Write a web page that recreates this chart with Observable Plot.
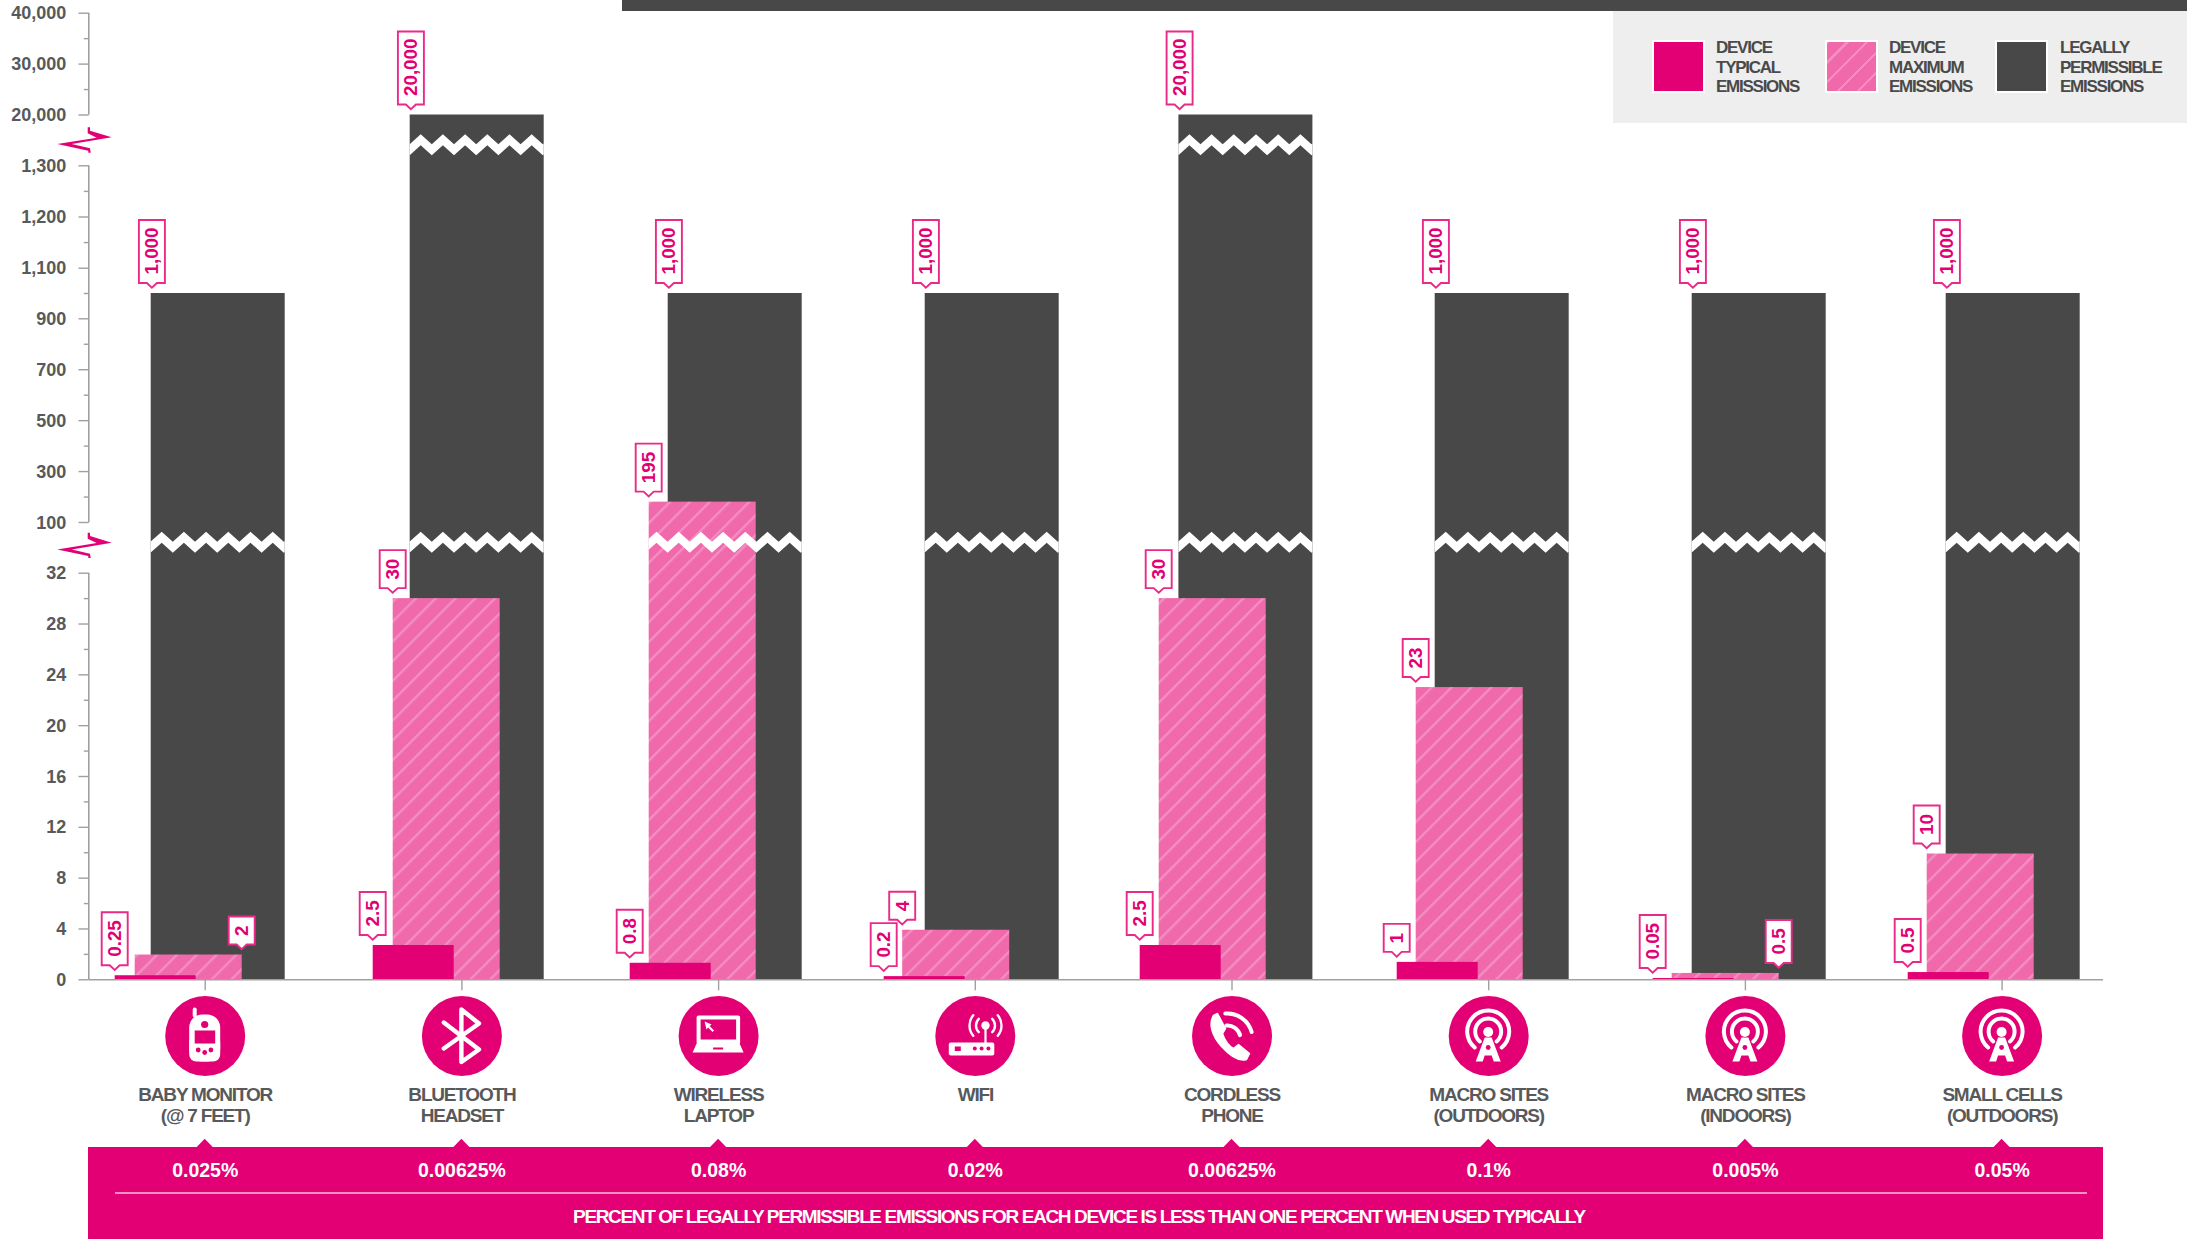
<!DOCTYPE html>
<html><head><meta charset="utf-8">
<script src="https://cdn.jsdelivr.net/npm/d3@7"></script>
<script src="https://cdn.jsdelivr.net/npm/@observablehq/plot@0.6"></script>
<style>
html,body{margin:0;padding:0;background:#fff;overflow:hidden}
#page{position:relative;width:2187px;height:1239px;overflow:hidden;font-family:"Liberation Sans",sans-serif}
#page svg{position:absolute;left:0;top:0;font-family:"Liberation Sans",sans-serif}
.strip{position:absolute;left:622px;top:0;right:0;height:11px;background:#484848}
.legend{position:absolute;left:1613px;top:11px;right:0;height:112px;background:#eee}
.sw{position:absolute;top:29px;width:49px;height:49px;border:2.5px solid #fff;box-sizing:content-box}
.lt{position:absolute;top:27px;font-size:17px;line-height:19.6px;font-weight:700;color:#4a4a4a;letter-spacing:-1.25px;white-space:pre}
</style></head><body>
<div id="page"></div>
<script>
const categories = ["BABY MONITOR\n(@ 7 FEET)","BLUETOOTH\nHEADSET","WIRELESS\nLAPTOP","WIFI","CORDLESS\nPHONE","MACRO SITES\n(OUTDOORS)","MACRO SITES\n(INDOORS)","SMALL CELLS\n(OUTDOORS)"];
const typicalHeights = [0.32,2.7,1.3,0.25,2.7,1.37,0.1,0.57];
const typicalLabels = ["0.25","2.5","0.8","0.2","2.5","1","0.05","0.5"];
const maximumHeights = [1.95,30,180,3.9,30,23,0.5,9.9];
const maximumLabels = ["2","30","195","4","30","23","0.5","10"];
const maximumFlagSides = ["right","left","left","left","left","left","right","left"];
const permissibleHeights = [1000,20000,1000,1000,20000,1000,1000,1000];
const permissibleLabels = ["1,000","20,000","1,000","1,000","20,000","1,000","1,000","1,000"];
const percentLabels = ["0.025%","0.00625%","0.08%","0.02%","0.00625%","0.1%","0.005%","0.05%"];
const iconNames = ["monitor","bluetooth","laptop","router","phone","tower","tower","tower"];
const majorTicks = [0,4,8,12,16,20,24,28,32,100,300,500,700,900,1100,1200,1300,20000,30000,40000];
const minorTicks = [2,6,10,14,18,22,26,30,200,400,600,800,1000,1150,1250,25000,35000];
const axisSegments = [[0,32],[100,1300],[20000,40000]];
const heading = "PERCENT OF LEGALLY PERMISSIBLE EMISSIONS FOR EACH DEVICE IS LESS THAN ONE PERCENT WHEN USED TYPICALLY";
const legendItems = [["DEVICE\nTYPICAL\nEMISSIONS",39,103],["DEVICE\nMAXIMUM\nEMISSIONS",212,276],["LEGALLY\nPERMISSIBLE\nEMISSIONS",382,447]];

const PINK = "#e20074", DARK = "#484848", GREY = "#58595b", AXIS = "#a0a0a0";
const xRange = [76.35,2129.95], band = (xRange[1]-xRange[0])/categories.length;
const BASE = 979.3;
// layout of the three overlapping bars around each category's centre
const off = {typical:[-91,-10], maximum:[-71.5,35.5], permissible:[-52.5,81.5]};
const nudge = {
  typical:[1,2.3,2.6,-0.1,-0.8,-0.5,-1.2,-2.9],
  maximum:[1.5,2.8,2.1,-1.1,-1.3,-1,-1.7,-3.4],
  permissible:[-1.5,0.8,2.1,2.4,-0.6,-1,-0.7,-3.4]
};
const insets = k => ({insetLeft: band/2+off[k][0], insetRight: band/2-off[k][1]});
const spacing = v => (i,s,vals,d,ctx,next)=>{const n=next(i,s,vals,d,ctx);n.style.letterSpacing=v;return n;};

const rows = categories.map((category,i)=>({category,typical:typicalHeights[i],maximum:maximumHeights[i],permissible:permissibleHeights[i],percent:percentLabels[i],icon:iconNames[i]}));
const flagRows = [
  ...categories.map((category,i)=>({category,height:typicalHeights[i],label:typicalLabels[i],offset:off.typical[0]+nudge.typical[i]})),
  ...categories.map((category,i)=>({category,height:maximumHeights[i],label:maximumLabels[i],offset:(maximumFlagSides[i]==="right"?off.maximum[1]:off.maximum[0])+nudge.maximum[i]})),
  ...categories.map((category,i)=>({category,height:permissibleHeights[i],label:permissibleLabels[i],offset:off.permissible[0]+nudge.permissible[i]+1.2}))
];

const centre = (s,c)=>s.x(c)+band/2;
const g = html => d3.create("svg:g").html(html).node();

function zigzagPoly(x0,x1,top,phase){
  const P=22.2,h=10,t=11,yAt=x=>{const u=(((x-phase)%P)+P)%P/(P/2);return top+h*(u<=1?u:2-u);};
  const xs=[x0];for(let x=phase-P*20;x<x1;x+=P/2){if(x>x0)xs.push(x);}xs.push(x1);
  const up=xs.map(x=>`${x},${yAt(x)}`),dn=xs.slice().reverse().map(x=>`${x},${yAt(x)+t}`);
  return `<polygon points="${up.concat(dn).join(" ")}" fill="#fff"/>`;
}
function arc(cx,cy,r,a0,a1,w){
  const p=a=>[cx+r*Math.sin(a*Math.PI/180),cy-r*Math.cos(a*Math.PI/180)];
  const [x0,y0]=p(a0),[x1,y1]=p(a1);
  return `<path d="M${x0},${y0}A${r},${r} 0 ${Math.abs(a1-a0)>180?1:0} 1 ${x1},${y1}" fill="none" stroke="#fff" stroke-width="${w}" stroke-linecap="round"/>`;
}
const iconArt = {
  monitor:`<rect x="-12" y="-28" width="4" height="10" rx="2" fill="#fff"/><rect x="-15.5" y="-21" width="31" height="47" rx="13" fill="#fff"/><rect x="-15.5" y="0" width="31" height="26" rx="7" fill="#fff"/><circle cx="0" cy="-11" r="3.6" fill="${PINK}"/><rect x="-10" y="-5" width="20.5" height="13" fill="${PINK}"/><circle cx="-6.5" cy="14.5" r="2.4" fill="${PINK}"/><circle cx="0" cy="17" r="2.4" fill="${PINK}"/><circle cx="6.2" cy="14.5" r="2.4" fill="${PINK}"/>`,
  bluetooth:`<path d="M-17.6,-13L17.6,14L0,26.5V-26L17.6,-12L-17.6,13" fill="none" stroke="#fff" stroke-width="4.4" stroke-linecap="round" stroke-linejoin="round"/>`,
  laptop:`<rect x="-21.5" y="-20" width="43.5" height="29" rx="2" fill="#fff"/><rect x="-17.5" y="-16" width="35.5" height="20" fill="${PINK}"/><path d="M-21.5,8H21.5L25.5,17H-25.5Z" fill="#fff"/><rect x="-5" y="12" width="10" height="2" fill="${PINK}"/><path d="M-13.5,-14L-6.5,-11L-8.5,-9.4L-4,-5L-5.6,-3.6L-10,-8L-11.6,-6Z" fill="#fff"/>`,
  router:`<rect x="-26" y="7" width="45.5" height="13" rx="2" fill="#fff"/><rect x="-20" y="11" width="6" height="4.5" fill="${PINK}"/><circle cx="0" cy="13" r="2" fill="${PINK}"/><circle cx="6.8" cy="13" r="2" fill="${PINK}"/><circle cx="13.6" cy="13" r="2" fill="${PINK}"/><rect x="9.6" y="-9" width="2.2" height="17" fill="#fff"/><circle cx="10.7" cy="-10" r="4.2" fill="#fff"/>${arc(10.7,-10,9.5,-135,-45,2.4)}${arc(10.7,-10,9.5,45,135,2.4)}${arc(10.7,-10,16,-130,-50,2.4)}${arc(10.7,-10,16,50,130,2.4)}`,
  phone:`<path d="M-18,-20C-23,-12 -20,0 -10,11C-1,21 8,26 15,24L18,18L7,9L2,13C-2,11 -7,5 -9,-2L-6,-7L-14,-22Z" fill="#fff" stroke="#fff" stroke-width="1.5" stroke-linejoin="round"/>${arc(-4,3,13,-5,75,4)}${arc(-4,3,25,-5,75,4)}`,
  tower:`${arc(0,-4,21,-140,140,4)}${arc(0,-4,13,-140,140,4)}<circle cx="0" cy="-3.5" r="5" fill="#fff"/><path d="M-3.5,2H3.5L12.5,26H5.5L3.5,20H-3.5L-5.5,26H-12.5Z" fill="#fff"/><circle cx="0" cy="12" r="2.4" fill="${PINK}"/>`
};

const markDefs = () => g(`<defs><pattern id="hatch" width="14" height="14" patternUnits="userSpaceOnUse" patternTransform="rotate(45)"><rect width="14" height="14" fill="#ef69ab"/><rect width="2.4" height="14" fill="#f48dc2"/></pattern></defs>`);

const markFooterBand = (i,s) => g(`<rect x="88" y="1147" width="2015" height="92" fill="${PINK}"/>`+
  categories.map(c=>{const x=centre(s,c);return `<path d="M${x-8.5},1147.5L${x},1138.7L${x+8.5},1147.5Z" fill="${PINK}"/>`;}).join("")+
  `<line x1="115" x2="2087" y1="1193" y2="1193" stroke="#f6c2dc" stroke-width="1.5"/>`);

const breakGlyph = "87.7,127.3 90,127.3 90,130.7 111.7,137.3 71.7,144 90,148.3 90.7,152.7 88.3,152.7 88.3,150.7 57.3,144 96.7,137.7 87.7,133.3";
const markAxisLine = (i,s) => g(axisSegments.map(([a,b])=>`<line x1="88.8" x2="88.8" y1="${s.y(a)}" y2="${s.y(b)}" stroke="${AXIS}" stroke-width="1.6"/>`).join("")+
  [0,405.4].map(t=>`<polygon points="${breakGlyph}" transform="translate(0,${t})" fill="${PINK}"/>`).join(""));

const markBreaks = (i,s) => g(rows.map((r,k)=>{
  const c=centre(s,r.category),L=c+off.permissible[0]+nudge.permissible[k],R=c+off.permissible[1]+nudge.permissible[k];
  let out="";
  if(r.permissible>1300) out+=zigzagPoly(L,R,134.3,L+11);
  const L2=r.maximum>100?c+off.maximum[0]+nudge.maximum[k]:L;
  out+=zigzagPoly(L2,R,531.7,L+11);
  return out;
}).join(""));

const markFlags = (i,s) => g(flagRows.map(f=>{
  const tip=centre(s,f.category)+f.offset, top=s.y(f.height);
  const w=[...f.label].reduce((t,ch)=>t+((ch==="."||ch===",")?5:10),0)+18;
  const b=top-10,tp=b-w;
  return `<path d="M${tip-13},${tp}H${tip+13}V${b}H${tip+5}L${tip},${b+4.7}L${tip-5},${b}H${tip-13}Z" fill="#fff" stroke="#ea2a89" stroke-width="1.9"/>`;
}).join(""));

const markIcons = (i,s) => g(rows.map(r=>`<g transform="translate(${centre(s,r.category)},1035.5)">${iconArt[r.icon]}</g>`).join(""));

const barMarks = (key,fill) => rows.map((r,k)=>Plot.barY([r],{x:"category",y:key,fill,dx:nudge[key][k],...insets(key)}));
const flagTextMarks = [...d3.group(flagRows,f=>f.offset)].map(([dx,list])=>
  Plot.text(list,{x:"category",y:"height",text:"label",dx,dy:-19,rotate:-90,textAnchor:"start",lineAnchor:"middle",fill:PINK,fontSize:18.8,fontWeight:700}));

const chart = Plot.plot({
  width:2187,height:1239,
  marginLeft:88.8,marginRight:84,marginTop:12.7,marginBottom:1239-BASE,
  x:{type:"band",domain:categories,range:xRange,padding:0,round:false,axis:null},
  y:{type:"linear",
     domain:[0,32,100,900,1100,1300,20000,40000],
     range:[BASE,572.7,522,318.3,267.7,165.3,114.5,12.7],axis:null},
  style:{fontFamily:"Liberation Sans",background:"none",overflow:"visible"},
  marks:[
    markDefs,
    markFooterBand,
    markAxisLine,
    ...barMarks("permissible",DARK),
    ...barMarks("maximum","url(#hatch)"),
    markBreaks,
    ...barMarks("typical",PINK),
    Plot.ruleY([0],{stroke:AXIS,strokeWidth:1.6}),
    Plot.axisY({ticks:minorTicks,tickSize:5,tickFormat:()=>"",stroke:AXIS,strokeWidth:1.4,label:null}),
    Plot.axisY({ticks:majorTicks,tickSize:10.3,tickPadding:12,tickFormat:()=>"",stroke:AXIS,strokeWidth:1.4,label:null}),
    Plot.axisY({ticks:majorTicks,tickSize:0,tickPadding:23,dy:0.4,tickFormat:d3.format(","),fill:GREY,fontSize:18,fontWeight:700,label:null}),
    Plot.axisX({tickSize:11,tickFormat:()=>"",stroke:AXIS,strokeWidth:1.4,label:null}),
    markFlags,
    ...flagTextMarks,
    Plot.dot(rows,{x:"category",y:()=>0,r:40,dy:56.2,fill:PINK,stroke:"none"}),
    markIcons,
    Plot.text(rows,{x:"category",y:()=>0,text:"category",dy:105.5,lineAnchor:"top",lineHeight:1.14,fill:GREY,fontSize:19,fontWeight:700,render:spacing("-1.2px")}),
    Plot.text(rows,{x:"category",y:()=>0,text:"percent",dy:190.7,lineAnchor:"middle",fill:"#fff",fontSize:19.5,fontWeight:700}),
    Plot.text([heading],{text:d=>d,frameAnchor:"bottom",dx:-17.5,dy:237.4,lineAnchor:"middle",fill:"#fff",fontSize:19,fontWeight:700,render:spacing("-1.36px")})
  ]
});
const page=document.getElementById("page");
page.appendChild(chart);

const strip=document.createElement("div");strip.className="strip";page.appendChild(strip);
const legend=document.createElement("div");legend.className="legend";page.appendChild(legend);
const swatchFills=[PINK,"repeating-linear-gradient(-45deg,#ef69ab 0,#ef69ab 11.6px,#f48dc2 11.6px,#f48dc2 14px)",DARK];
legendItems.forEach(([t,x,tx],i)=>{
  const s=document.createElement("div");s.className="sw";s.style.left=x+"px";s.style.background=swatchFills[i];legend.appendChild(s);
  const l=document.createElement("div");l.className="lt";l.style.left=tx+"px";l.textContent=t;legend.appendChild(l);
});
</script>
</body></html>
